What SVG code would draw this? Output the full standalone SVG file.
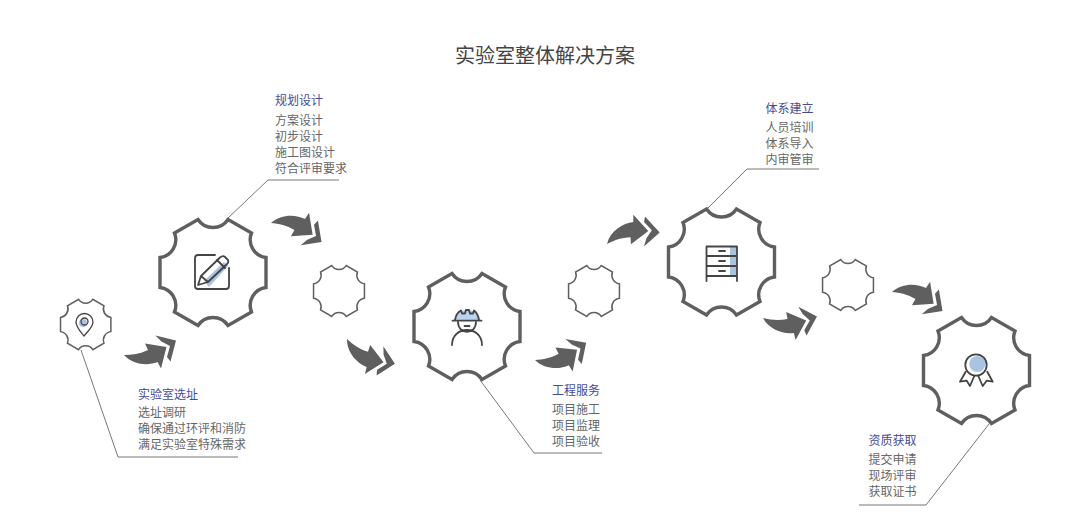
<svg xmlns="http://www.w3.org/2000/svg" xmlns:xlink="http://www.w3.org/1999/xlink" width="1080" height="525" viewBox="0 0 1080 525">
<style>
text{font-family:"Noto Sans CJK SC","Microsoft YaHei",sans-serif;font-size:12px;fill:#666}
.title{font-size:20px;fill:#444}
.head{fill:#444a9a}
#g{vector-effect:non-scaling-stroke}
.gear{fill:#fff;stroke:#5f5f5f}
.big{stroke-width:3.400}
.small{stroke-width:1.500}
.lead{fill:none;stroke:#777;stroke-width:1}
.ic{fill:none;stroke:#444;stroke-width:1.800;stroke-linecap:round;stroke-linejoin:round}
.bl{fill:#a9c4e2;stroke:none}
.arw{fill:#5f5f5f}
</style>
<defs>
<path id="g" d="M-15,-53A18,18 0 0 0 15,-53L38.500,-39.500A18,18 0 0 0 53,-15V15A18,18 0 0 0 38.500,39.500L15,53A18,18 0 0 0 -15,53L-38.500,39.500A18,18 0 0 0 -53,15V-15A18,18 0 0 0 -38.500,-39.500Z"/>
<g id="a">
<path d="M0,0C8,0 16,-1 24,-5L21,-11.500L42.500,-8L37,13.500L33.500,7C24,11 9,10 0,0Z"/>
<path d="M31.500,-19.500L52,-14.500L46.500,6.500L43,2L46,-9L37.500,-13.500Z"/>
</g>
</defs>
<rect width="1080" height="525" fill="#fff"/>
<text class="title" x="455" y="63">实验室整体解决方案</text>
<g id="connectors">
<path class="lead" d="M81,350L118,457H238"/>
<path class="lead" d="M227,219L268,180H339"/>
<path class="lead" d="M480,380L534,453H602"/>
<path class="lead" d="M707,209L747,169H819"/>
<path class="lead" d="M989,424L926,505H859"/>
<g class="arw">
<use xlink:href="#a" href="#a" transform="translate(124,355)"/>
<use xlink:href="#a" href="#a" transform="translate(271,223) rotate(5) scale(1,-1)"/>
<use xlink:href="#a" href="#a" transform="translate(347,339) rotate(43)"/>
<use xlink:href="#a" href="#a" transform="translate(535,360) rotate(-3)"/>
<use xlink:href="#a" href="#a" transform="translate(607,244) rotate(-28) scale(1,-1)"/>
<use xlink:href="#a" href="#a" transform="translate(763,318) rotate(14)"/>
<use xlink:href="#a" href="#a" transform="translate(892,292) rotate(5) scale(1,-1)"/>
</g>
</g>
<g id="node-site">
<use xlink:href="#g" href="#g" class="gear small" transform="translate(85.700,324.500) scale(0.475)"/>
<circle class="bl" cx="83" cy="323" r="4"/>
<path class="ic" style="stroke-width:1.300" d="M84,336C80,331 76,327 76,322A8.500,8.500 0 0 1 93,322C93,327 88,331 84,336Z"/>
<circle class="ic" style="stroke-width:1.300" cx="84.500" cy="321.500" r="3.500"/>
<text class="head" x="138" y="399">实验室选址</text>
<text x="138" y="417">选址调研</text>
<text x="138" y="433">确保通过环评和消防</text>
<text x="138" y="449">满足实验室特殊需求</text>
</g>
<g id="node-design">
<use xlink:href="#g" href="#g" class="gear big" transform="translate(213,272.500)"/>
<path class="bl" d="M204,281L224,262L228,266L209,287Z"/>
<path class="ic" d="M215,255H198Q195,255 195,258V286Q195,289 198,289H226Q229,289 229,286V268"/>
<path class="ic" d="M198,285L201,276L220,257.500Q223,255 225,257L228,260Q229,262 227,264L208,282ZM201,276L208,282M217,260L225,268"/>
<text class="head" x="275" y="105">规划设计</text>
<text x="275" y="125">方案设计</text>
<text x="275" y="141">初步设计</text>
<text x="275" y="157">施工图设计</text>
<text x="275" y="173">符合评审要求</text>
</g>
<g id="node-gear-2"><use xlink:href="#g" href="#g" class="gear small" transform="translate(339,291) scale(0.48)"/></g>
<g id="node-service">
<use xlink:href="#g" href="#g" class="gear big" transform="translate(467,326.500)"/>
<path style="fill:#bcd3ee" d="M455,320C456,313 460,310 467,310C474,310 478,313 479,320Z"/>
<path class="ic" d="M452.500,320.700H481.500M455,320C456,314 458,312 461,310.500L462,313.500H465L466,310H469L470,313.500H473L474,310.500C476,312 478,314 479,320"/>
<path class="ic" d="M458,322C458,335 476,335 476,322M464.500,326H469.500M452,345C452,325 482,325 482,345"/>
<text class="head" x="552" y="395">工程服务</text>
<text x="552" y="414">项目施工</text>
<text x="552" y="430">项目监理</text>
<text x="552" y="446">项目验收</text>
</g>
<g id="node-gear-3"><use xlink:href="#g" href="#g" class="gear small" transform="translate(594,291) scale(0.48)"/></g>
<g id="node-system">
<use xlink:href="#g" href="#g" class="gear big" transform="translate(721.500,262)"/>
<rect class="bl" x="730" y="246" width="7" height="30"/>
<path class="ic" stroke-linecap="butt" d="M706.500,281V246.500H737V281M706.500,256H737M706.500,266H737M706.500,276H737M719,251H725M719,261H725M719,271H725"/>
<text class="head" x="765.500" y="113">体系建立</text>
<text x="765.500" y="132">人员培训</text>
<text x="765.500" y="148">体系导入</text>
<text x="765.500" y="164">内审管审</text>
</g>
<g id="node-gear-4"><use xlink:href="#g" href="#g" class="gear small" transform="translate(848,285) scale(0.48)"/></g>
<g id="node-cert">
<use xlink:href="#g" href="#g" class="gear big" transform="translate(976.500,370.500)"/>
<circle class="bl" cx="977.300" cy="364" r="8"/>
<circle class="ic" cx="976" cy="365" r="10.700"/>
<path class="ic" d="M965.700,371.700L960,381.700L966.700,380.700L970,386L974.300,376M987.300,371.700L992.700,381.700L986.700,380.700L982.700,386L978.300,376"/>
<text class="head" x="868.500" y="445">资质获取</text>
<text x="868.500" y="464">提交申请</text>
<text x="868.500" y="480">现场评审</text>
<text x="868.500" y="496">获取证书</text>
</g>
</svg>
